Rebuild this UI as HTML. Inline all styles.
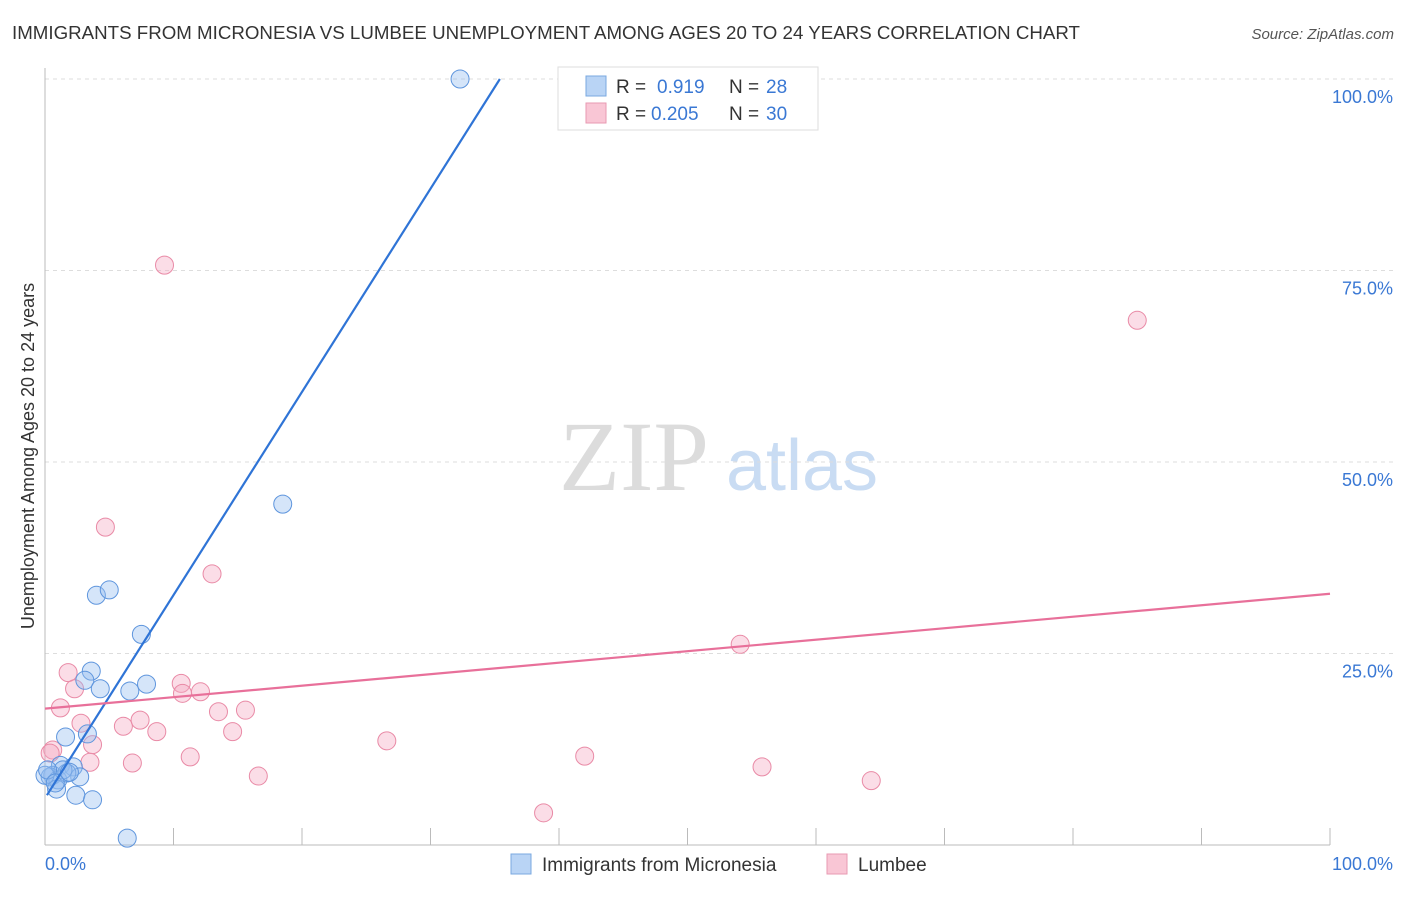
<!DOCTYPE html>
<html><head><meta charset="utf-8"><style>
body{margin:0;background:#fff;font-family:"Liberation Sans",sans-serif;}
</style></head><body>
<svg id="chart" width="1406" height="892" xmlns="http://www.w3.org/2000/svg" font-family="Liberation Sans, sans-serif">
<text x="12" y="39" font-size="18" fill="#333" textLength="1068" lengthAdjust="spacingAndGlyphs">IMMIGRANTS FROM MICRONESIA VS LUMBEE UNEMPLOYMENT AMONG AGES 20 TO 24 YEARS CORRELATION CHART</text>
<text x="1394" y="39" font-size="15" fill="#555" text-anchor="end" font-style="italic">Source: ZipAtlas.com</text>
<g>
<text x="634" y="490" font-size="100" fill="#dcdcdc" text-anchor="middle" style="font-family:'Liberation Serif',serif">ZIP</text>
<text x="802" y="490" font-size="72" fill="#c9dcf3" text-anchor="middle">atlas</text>
</g>
<g id="grid"></g><g id="axes"></g><g id="marks"></g>
<g>
<rect x="558" y="67" width="260" height="63" fill="#fff" stroke="#ddd"/>
<rect x="586" y="76" width="20" height="20" fill="#b9d4f5" stroke="#7aa8e0"/>
<text x="616" y="93" font-size="19" fill="#333">R = </text><text x="657" y="93" font-size="19" fill="#3a78d4">0.919</text>
<text x="729" y="93" font-size="19" fill="#333">N = </text><text x="766" y="93" font-size="19" fill="#3a78d4">28</text>
<rect x="586" y="103" width="20" height="20" fill="#f9c6d5" stroke="#e89ab2"/>
<text x="616" y="120" font-size="19" fill="#333">R = </text><text x="651" y="120" font-size="19" fill="#3a78d4">0.205</text>
<text x="729" y="120" font-size="19" fill="#333">N = </text><text x="766" y="120" font-size="19" fill="#3a78d4">30</text>
</g>
<g>
<rect x="511" y="854" width="20" height="20" fill="#b9d4f5" stroke="#7aa8e0"/>
<text x="542" y="871" font-size="19" fill="#333">Immigrants from Micronesia</text>
<rect x="827" y="854" width="20" height="20" fill="#f9c6d5" stroke="#e89ab2"/>
<text x="858" y="871" font-size="19" fill="#333">Lumbee</text>
</g>
<text transform="translate(34,456) rotate(-90)" font-size="18" fill="#333" text-anchor="middle">Unemployment Among Ages 20 to 24 years</text>
</svg>
<script>
const blueX=[32.3,18.5,4.0,5.0,7.5,3.6,3.1,4.3,6.6,7.9,1.6,3.3,1.2,2.2,2.7,0.6,0.4,1.0,1.7,0.9,2.4,3.7,6.4,0.0,1.4,1.9,0.2,0.8];
const blueY=[100,44.5,32.6,33.3,27.5,22.7,21.5,20.4,20.1,21.0,14.1,14.5,10.4,10.2,8.9,9.1,8.9,8.5,9.4,7.3,6.5,5.9,0.9,9.1,9.8,9.5,9.8,8.1];
const pinkX=[1.8,2.3,1.2,2.8,3.7,3.5,0.6,0.4,6.1,7.4,8.7,6.8,10.6,10.7,12.1,13.5,15.6,14.6,11.3,16.6,4.7,9.3,13.0,26.6,42.0,38.8,54.1,55.8,64.3,85.0];
const pinkY=[22.5,20.4,17.9,15.9,13.1,10.8,12.4,12.0,15.5,16.3,14.8,10.7,21.1,19.8,20.0,17.4,17.6,14.8,11.5,9.0,41.5,75.7,35.4,13.6,11.6,4.2,26.2,10.2,8.4,68.5];
const blueTrend=[0.15,35.4];
const blueTrendY=[6.5,100];
const pinkTrend=[0,100];
const pinkTrendY=[17.8,32.8];
const yTicks=[25,50,75,100];
const yTickLabels=["25.0%","50.0%","75.0%","100.0%"];
const xTickCount=10;
const NS="http://www.w3.org/2000/svg";
const sx=v=>45+v/100*1285, sy=v=>845-v/100*766;
function mk(t,a,p){const e=document.createElementNS(NS,t);for(const k in a)e.setAttribute(k,a[k]);p.appendChild(e);return e;}
const grid=document.getElementById('grid'),axes=document.getElementById('axes'),marks=document.getElementById('marks');
yTicks.forEach((t,i)=>{
 const l=mk('line',{x1:45,x2:1393,y1:sy(t),y2:sy(t),stroke:'#ddd','stroke-dasharray':'4,4'},grid);
 
 
 const tx=mk('text',{x:1393,y:sy(t)+24,'font-size':18,fill:'#3a78d4','text-anchor':'end'},axes);
 tx.textContent=yTickLabels[i];
 
 
});
let a=mk('line',{x1:45,x2:45,y1:68,y2:845,stroke:'#bbb'},axes);


a=mk('line',{x1:45,x2:1330,y1:845,y2:845,stroke:'#bbb'},axes);


for(let i=1;i<=xTickCount;i++){const x=sx(i*100/xTickCount);
 const t=mk('line',{x1:x,x2:x,y1:828,y2:845,stroke:'#bbb'},axes);
 
 }
let xl=mk('text',{x:45,y:870,'font-size':18,fill:'#3a78d4'},axes);xl.textContent='0.0%';


xl=mk('text',{x:1393,y:870,'font-size':18,fill:'#3a78d4','text-anchor':'end'},axes);xl.textContent='100.0%';


pinkX.forEach((x,i)=>{const c=mk('circle',{cx:sx(x),cy:sy(pinkY[i]),r:9,fill:'rgba(245,170,195,0.4)',stroke:'#e98aa6','stroke-width':1},marks);
 
 });
blueX.forEach((x,i)=>{const c=mk('circle',{cx:sx(x),cy:sy(blueY[i]),r:9,fill:'rgba(150,190,240,0.4)',stroke:'#5e95dd','stroke-width':1},marks);
 
 });
let tl=mk('line',{x1:sx(blueTrend[0]),y1:sy(blueTrendY[0]),x2:sx(blueTrend[1]),y2:sy(blueTrendY[1]),stroke:'#2f74d6','stroke-width':2.2},marks);


tl=mk('line',{x1:sx(pinkTrend[0]),y1:sy(pinkTrendY[0]),x2:sx(pinkTrend[1]),y2:sy(pinkTrendY[1]),stroke:'#e8709a','stroke-width':2.2},marks);


</script>
</body></html>
